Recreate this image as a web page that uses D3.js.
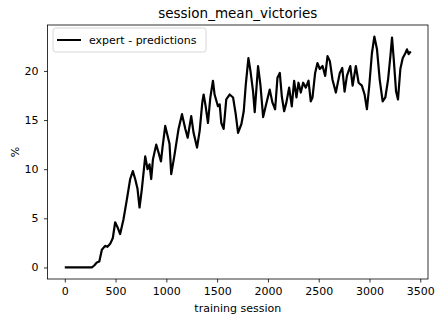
<!DOCTYPE html>
<html>
<head>
    <title>session_mean_victories</title>
    <script src="https://d3js.org/d3.v7.min.js"></script>
    <style>
        body { margin: 0; background: #fff; }
        text { font-family: "DejaVu Sans", sans-serif; fill: #000; }
    </style>
</head>
<body>
    <div id="chart"></div>

    <script>
        // data
        var sessions = [0, 266, 290, 315, 340, 365, 397, 420, 447, 473, 496, 519, 545, 578, 611, 644, 670, 693, 716, 736,
            759, 792, 815, 834, 851, 868, 900, 923, 947, 962, 989, 1012, 1031, 1048, 1078, 1120, 1154, 1187, 1210, 1245,
            1268, 1302, 1328, 1354, 1367, 1387, 1410, 1433, 1459, 1475, 1508, 1525, 1541, 1564, 1590, 1623, 1657, 1683,
            1706, 1739, 1762, 1782, 1808, 1828, 1854, 1870, 1903, 1926, 1953, 1978, 2018, 2044, 2071, 2094, 2117, 2137,
            2160, 2182, 2209, 2235, 2258, 2281, 2301, 2324, 2347, 2373, 2400, 2422, 2439, 2465, 2488, 2511, 2538, 2564,
            2587, 2610, 2636, 2669, 2708, 2732, 2755, 2778, 2811, 2834, 2866, 2893, 2925, 2952, 2975, 2998, 3024, 3048,
            3074, 3101, 3130, 3156, 3183, 3206, 3222, 3239, 3262, 3281, 3304, 3327, 3353, 3369, 3386, 3406];
        var victories = [0, 0, 0.2, 0.5, 0.6, 1.8, 2.2, 2.1, 2.4, 3.0, 4.6, 4.1, 3.4, 4.9, 6.9, 9.0, 9.8, 9.0, 8.0, 6.1,
            8.0, 11.3, 10.0, 10.5, 9.0, 11.0, 12.5, 11.7, 10.8, 12.2, 14.4, 13.4, 12.6, 9.5, 11.3, 14.1, 15.6, 14.1, 13.2, 15.4,
            13.7, 12.2, 13.9, 16.8, 17.6, 16.4, 14.7, 17.3, 19.0, 17.6, 16.4, 16.6, 14.7, 14.1, 17.1, 17.6, 17.3, 15.6,
            13.7, 14.6, 15.9, 18.6, 21.3, 20.0, 17.9, 15.8, 20.5, 18.6, 15.3, 16.4, 18.1, 16.8, 16.1, 19.3, 19.8, 17.4,
            15.9, 16.8, 18.3, 16.4, 19.0, 17.3, 18.8, 17.8, 18.8, 18.3, 19.0, 16.9, 17.3, 19.8, 20.8, 20.2, 20.5, 19.5,
            21.5, 21.0, 19.1, 17.8, 19.8, 20.3, 17.9, 19.5, 20.5, 18.5, 20.5, 18.8, 18.5, 17.6, 16.1, 18.5, 21.8, 23.5,
            22.2, 19.1, 16.9, 17.3, 19.1, 21.5, 23.4, 21.2, 17.9, 17.1, 20.2, 21.3, 21.8, 22.2, 21.7, 22.0];
        var xTicks = [0, 500, 1000, 1500, 2000, 2500, 3000, 3500];
        var yTicks = [0, 5, 10, 15, 20];
        var seriesName = "expert - predictions";

        var W = 436, H = 320;
        var margin = {top: 25, right: 8, bottom: 41, left: 47.5},
            width = W - margin.left - margin.right,
            height = H - margin.top - margin.bottom;

        var data = sessions.map(function(s, i) { return {x: s, y: victories[i]}; });

        var svg = d3.select("#chart")
                    .append("svg")
                    .attr("width", W)
                    .attr("height", H);

        var g = svg.append("g")
                   .attr("transform", "translate(" + margin.left + "," + margin.top + ")");

        // matplotlib style 5% margins around the data
        var xe = d3.extent(data, function(d) { return d.x; }),
            ye = d3.extent(data, function(d) { return d.y; });
        var xp = (xe[1] - xe[0]) * 0.05, yp = (ye[1] - ye[0]) * 0.05;

        var x = d3.scaleLinear().domain([xe[0] - xp, xe[1] + xp]).range([0, width]);
        var y = d3.scaleLinear().domain([ye[0] - yp, ye[1] + yp]).range([height, 0]);

        // axes
        var xAxis = g.append("g")
            .attr("transform", "translate(0," + height + ")")
            .call(d3.axisBottom(x).tickValues(xTicks).tickFormat(d3.format("d"))
                .tickSize(3.5).tickPadding(5).tickSizeOuter(0));
        var yAxis = g.append("g")
            .call(d3.axisLeft(y).tickValues(yTicks).tickFormat(d3.format("d"))
                .tickSize(3.5).tickPadding(5.5).tickSizeOuter(0));

        [xAxis, yAxis].forEach(function(a) {
            a.select(".domain").remove();
            a.selectAll("line").attr("stroke", "#000").attr("stroke-width", 0.8);
            a.selectAll("text").style("font-size", "11px").attr("fill", "#000");
        });

        // frame
        g.append("rect")
            .attr("width", width)
            .attr("height", height)
            .attr("fill", "none")
            .attr("stroke", "#000")
            .attr("stroke-width", 0.8);

        // the line
        var line = d3.line()
            .x(function(d) { return x(d.x); })
            .y(function(d) { return y(d.y); });

        g.append("path")
            .datum(data)
            .attr("d", line)
            .attr("fill", "none")
            .attr("stroke", "#000")
            .attr("stroke-width", 2.2)
            .attr("stroke-linejoin", "round");

        // title + labels
        svg.append("text")
            .attr("x", margin.left + width / 2)
            .attr("y", 18)
            .attr("text-anchor", "middle")
            .style("font-size", "13.5px")
            .text("session_mean_victories");

        svg.append("text")
            .attr("x", margin.left + width / 2)
            .attr("y", 312)
            .attr("text-anchor", "middle")
            .style("font-size", "11px")
            .text("training session");

        svg.append("text")
            .attr("transform", "translate(18.5," + (margin.top + height / 2) + ") rotate(-90)")
            .attr("text-anchor", "middle")
            .style("font-size", "11px")
            .text("%");

        // legend
        var leg = g.append("g").attr("transform", "translate(5.5,3)");
        leg.append("rect")
            .attr("width", 153)
            .attr("height", 24)
            .attr("rx", 2.5)
            .attr("fill", "#fff")
            .attr("fill-opacity", 0.8)
            .attr("stroke", "#ccc")
            .attr("stroke-width", 0.8);
        leg.append("line")
            .attr("x1", 4).attr("x2", 28)
            .attr("y1", 12).attr("y2", 12)
            .attr("stroke", "#000")
            .attr("stroke-width", 2);
        leg.append("text")
            .attr("x", 36)
            .attr("y", 16)
            .style("font-size", "11px")
            .text(seriesName);
    </script>
</body>
</html>
